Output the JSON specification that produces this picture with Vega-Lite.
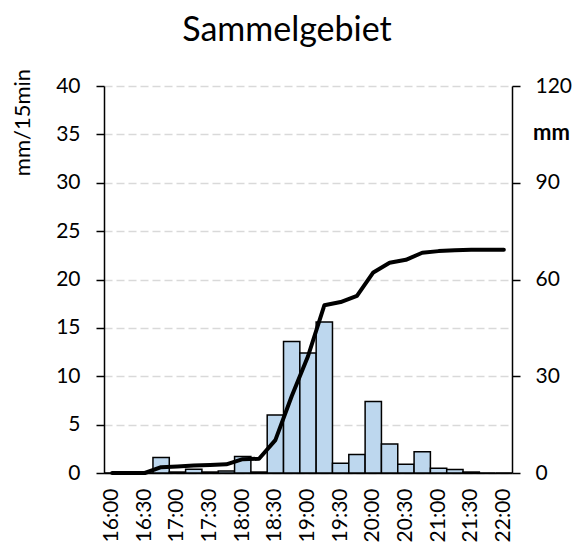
{
  "$schema": "https://vega.github.io/schema/vega-lite/v6.json",
  "autosize": "none",
  "width": 408,
  "height": 387,
  "padding": {"left": 104, "top": 86, "right": 62, "bottom": 72},
  "background": "white",
  "config": {
    "font": "Lato",
    "view": {"stroke": null},
    "axis": {"labelFont": "Lato", "titleFont": "Lato", "labelColor": "black", "titleColor": "black", "labelFontSize": 21, "titleFontSize": 22, "titleFontWeight": "normal"}
  },
  "title": {
    "text": "Sammelgebiet",
    "font": "Lato",
    "fontSize": 34,
    "fontWeight": "normal",
    "color": "black",
    "frame": "group",
    "anchor": "middle",
    "baseline": "alphabetic",
    "offset": 41,
    "dy": 48,
    "dx": -21
  },
  "data": {
    "values": [
      {"time": "16:00", "rain": 0, "cum": 0},
      {"time": "16:15", "rain": 0, "cum": 0},
      {"time": "16:30", "rain": 0, "cum": 0},
      {"time": "16:45", "rain": 1.6, "cum": 1.8},
      {"time": "17:00", "rain": 0.1, "cum": 2.0},
      {"time": "17:15", "rain": 0.4, "cum": 2.3},
      {"time": "17:30", "rain": 0.1, "cum": 2.5},
      {"time": "17:45", "rain": 0.2, "cum": 2.7},
      {"time": "18:00", "rain": 1.7, "cum": 4.3},
      {"time": "18:15", "rain": 0.1, "cum": 4.4},
      {"time": "18:30", "rain": 6.0, "cum": 10.2},
      {"time": "18:45", "rain": 13.6, "cum": 23.8},
      {"time": "19:00", "rain": 12.4, "cum": 36.2},
      {"time": "19:15", "rain": 15.6, "cum": 52.0},
      {"time": "19:30", "rain": 1.0, "cum": 53.0},
      {"time": "19:45", "rain": 1.9, "cum": 54.9},
      {"time": "20:00", "rain": 7.4, "cum": 62.2},
      {"time": "20:15", "rain": 3.0, "cum": 65.2},
      {"time": "20:30", "rain": 0.9, "cum": 66.1},
      {"time": "20:45", "rain": 2.2, "cum": 68.3},
      {"time": "21:00", "rain": 0.5, "cum": 68.8},
      {"time": "21:15", "rain": 0.35, "cum": 69.1},
      {"time": "21:30", "rain": 0.1, "cum": 69.2},
      {"time": "21:45", "rain": 0, "cum": 69.2},
      {"time": "22:00", "rain": 0, "cum": 69.2}
    ]
  },
  "encoding": {
    "x": {
      "field": "time",
      "type": "ordinal",
      "sort": null,
      "scale": {"paddingInner": 0, "paddingOuter": 0},
      "axis": {
        "title": null,
        "values": ["16:00", "16:30", "17:00", "17:30", "18:00", "18:30", "19:00", "19:30", "20:00", "20:30", "21:00", "21:30", "22:00"],
        "labelAngle": -90,
        "ticks": false,
        "tickSize": 0,
        "labelPadding": 15,
        "domainColor": "black",
        "domainWidth": 1.5,
        "grid": false
      }
    }
  },
  "layer": [
    {
      "mark": {"type": "bar", "fill": "#bdd7ee", "stroke": "black", "strokeWidth": 1.5},
      "encoding": {
        "y": {
          "field": "rain",
          "type": "quantitative",
          "scale": {"domain": [0, 40], "nice": false},
          "axis": {
            "title": "mm/15min",
            "values": [0, 5, 10, 15, 20, 25, 30, 35, 40],
            "grid": true,
            "gridColor": "#d9d9d9",
            "gridWidth": 1.5,
            "gridDash": [8, 4],
            "domainColor": "black",
            "domainWidth": 1.5,
            "tickColor": "black",
            "tickWidth": 1.5,
            "tickSize": 8,
            "labelPadding": 16,
            "titleAngle": -90,
            "titleX": -82,
            "titleY": 36,
            "titleAlign": "center",
            "titleBaseline": "middle"
          }
        }
      }
    },
    {
      "mark": {"type": "line", "color": "black", "strokeWidth": 4, "strokeJoin": "round", "strokeCap": "round"},
      "encoding": {
        "y": {
          "field": "cum",
          "type": "quantitative",
          "scale": {"domain": [0, 120], "nice": false},
          "axis": {
            "orient": "right",
            "title": "mm",
            "titleFontWeight": "bold",
            "values": [0, 30, 60, 90, 120],
            "grid": false,
            "domainColor": "black",
            "domainWidth": 1.5,
            "tickColor": "black",
            "tickWidth": 1.5,
            "tickSize": 8,
            "labelPadding": 15,
            "titleAngle": 0,
            "titleX": 39,
            "titleY": 46,
            "titleAlign": "center",
            "titleBaseline": "middle"
          }
        }
      }
    }
  ],
  "resolve": {"scale": {"y": "independent"}}
}
